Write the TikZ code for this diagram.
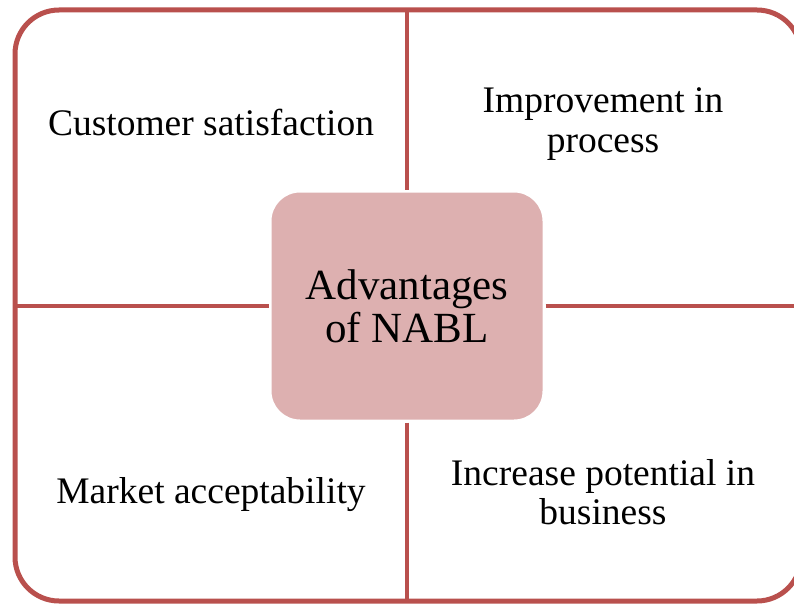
\documentclass[tikz,border=0pt]{standalone}
\usepackage{fontspec}
\setmainfont{Liberation Serif}
\definecolor{nablred}{HTML}{B9504D}
\definecolor{nablpink}{HTML}{DDB0B0}
\tikzset{
  frame/.style={draw=nablred, line width=5pt, rounded corners=44pt},
  divider/.style={draw=nablred, line width=4.5pt},
  hub/.style={fill=nablpink, draw=white, line width=3pt, rounded corners=30pt,
    minimum width=274pt, minimum height=230pt, align=center,
    font=\fontsize{43}{43}\selectfont},
  quad/.style={align=center, font=\fontsize{37.5}{39.5}\selectfont}
}
\begin{document}
\begin{tikzpicture}[x=1pt, y=-1pt]
  \useasboundingbox (0,0) rectangle (794,604);
  \clip (0,0) rectangle (794,604);
  % outer frame, its right side runs off the page
  \draw[frame] (15,10) rectangle (801,601);
  \coordinate (top) at (407,10);
  \coordinate (bottom) at (407,601);
  \coordinate (left) at (15,306);
  \coordinate (right) at (801,306);
  % centre box
  \node[hub] (hub) at (407,306) {Advantages\\of NABL};
  % cross lines
  \draw[divider] (hub.north) -- (top);
  \draw[divider] (hub.south) -- (bottom);
  \draw[divider] (hub.west) -- (left);
  \draw[divider] (hub.east) -- (right);
  % the four advantages
  \node[quad] (cust) at (211,122) {Customer satisfaction};
  \node[quad] (impr) at (603,124) {Improvement in\\process};
  \node[quad] (mkt) at (211,495) {Market acceptability};
  \node[quad] (incr) at (603,492) {Increase potential in\\business};
\end{tikzpicture}
\end{document}
